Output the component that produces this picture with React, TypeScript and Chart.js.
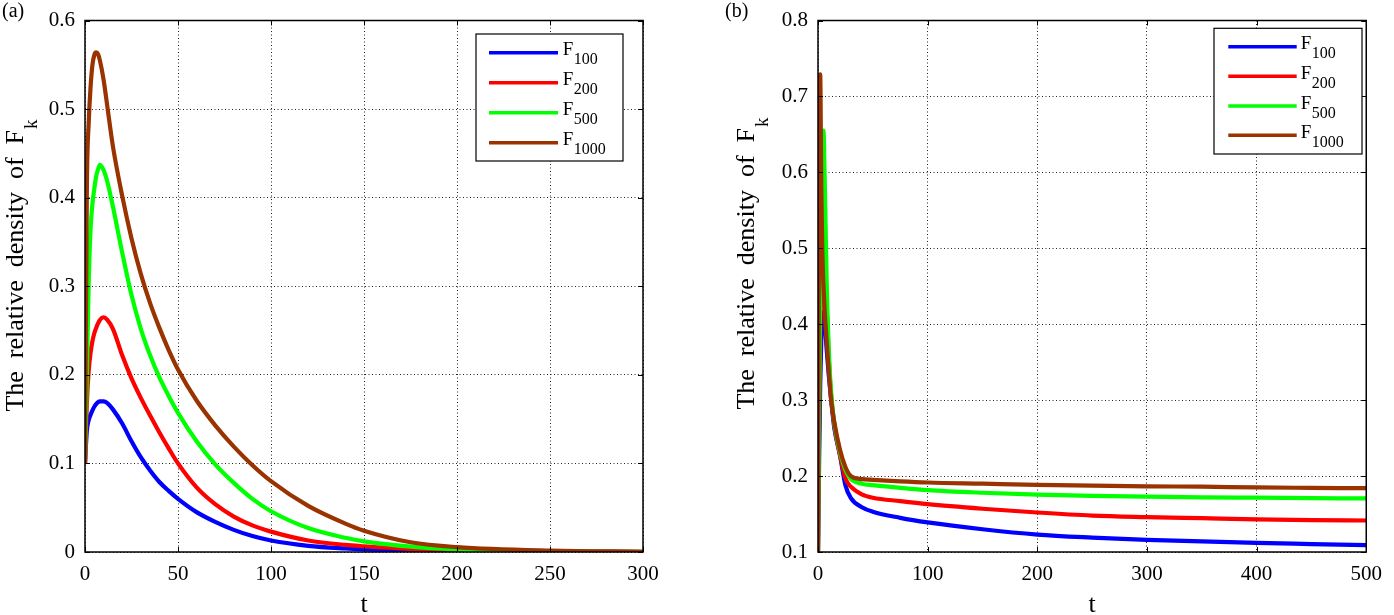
import React, { useEffect, useRef } from "react";
import { Chart, registerables } from "chart.js";

Chart.register(...registerables);

const SERIF = "'Liberation Serif', 'Times New Roman', serif";

// Series names (F with subscript) and colours
const seriesSubs = ["100", "200", "500", "1000"];
const seriesColors = ["#0000ff", "#ff0000", "#00ff00", "#993300"];

// ---------- Panel (a) ----------
const tA = [0, 1, 2, 3, 4, 5, 6, 7, 8, 10, 12, 15, 20, 25, 30, 35, 40, 45, 50, 60, 70, 80, 90, 100, 120, 140, 150, 175, 200, 250, 300];
const a100 = [0.1, 0.137, 0.149, 0.155, 0.16, 0.164, 0.167, 0.169, 0.17, 0.17, 0.168, 0.161, 0.145, 0.125, 0.107, 0.092, 0.079, 0.069, 0.06, 0.045, 0.034, 0.025, 0.018, 0.013, 0.007, 0.004, 0.003, 0.0015, 0.0007, 0.0002, 0.0];
const a200 = [0.1, 0.168, 0.205, 0.225, 0.238, 0.247, 0.253, 0.258, 0.262, 0.265, 0.262, 0.252, 0.222, 0.196, 0.174, 0.154, 0.135, 0.117, 0.1, 0.073, 0.054, 0.04, 0.03, 0.023, 0.013, 0.008, 0.0065, 0.0035, 0.0018, 0.0005, 0.0001];
const a500 = [0.1, 0.2, 0.305, 0.365, 0.393, 0.41, 0.424, 0.432, 0.437, 0.431, 0.418, 0.39, 0.338, 0.29, 0.252, 0.222, 0.197, 0.176, 0.157, 0.125, 0.099, 0.078, 0.06, 0.046, 0.027, 0.016, 0.012, 0.006, 0.003, 0.0007, 0.0001];
const a1000 = [0.1, 0.41, 0.485, 0.525, 0.55, 0.561, 0.564, 0.562, 0.555, 0.533, 0.503, 0.458, 0.402, 0.354, 0.314, 0.281, 0.253, 0.228, 0.206, 0.171, 0.143, 0.119, 0.098, 0.08, 0.052, 0.032, 0.024, 0.011, 0.0055, 0.0015, 0.0003];
const xTicksA = [0, 50, 100, 150, 200, 250, 300];
const yTicksA = [0, 0.1, 0.2, 0.3, 0.4, 0.5, 0.6];

// ---------- Panel (b) ----------
const tB = [0, 1, 2, 3, 4, 5, 6, 8, 10, 12, 15, 20, 25, 30, 40, 50, 75, 100, 150, 200, 250, 300, 350, 400, 450, 500];
const b100 = [0.1, 0.22, 0.32, 0.38, 0.41, 0.416, 0.405, 0.365, 0.33, 0.3, 0.262, 0.228, 0.188, 0.171, 0.159, 0.153, 0.145, 0.139, 0.13, 0.123, 0.119, 0.116, 0.114, 0.112, 0.1105, 0.109];
const b200 = [0.1, 0.26, 0.39, 0.47, 0.52, 0.535, 0.5, 0.42, 0.35, 0.305, 0.266, 0.228, 0.197, 0.186, 0.176, 0.1715, 0.167, 0.163, 0.157, 0.152, 0.148, 0.146, 0.1445, 0.143, 0.142, 0.1415];
const b500 = [0.1, 0.3, 0.45, 0.56, 0.63, 0.655, 0.6, 0.45, 0.36, 0.31, 0.268, 0.232, 0.208, 0.196, 0.19, 0.188, 0.1845, 0.1815, 0.178, 0.1755, 0.174, 0.173, 0.172, 0.1715, 0.171, 0.1705];
const b1000 = [0.1, 0.6, 0.729, 0.58, 0.49, 0.45, 0.42, 0.375, 0.335, 0.3, 0.27, 0.235, 0.212, 0.2, 0.196, 0.195, 0.193, 0.1915, 0.19, 0.1885, 0.1875, 0.1865, 0.186, 0.185, 0.1845, 0.184];
const xTicksB = [0, 100, 200, 300, 400, 500];
const yTicksB = [0.1, 0.2, 0.3, 0.4, 0.5, 0.6, 0.7, 0.8];

type LegendSpec = { x: number; y: number; w: number; h: number; lx0: number; lx1: number; rows: number[]; tx: number };
type PanelSpec = {
  left: number;
  width: number;
  padLeft: number;
  padRight: number;
  t: number[];
  series: number[][];
  xTicks: number[];
  yTicks: number[];
  label: string;
  labelX: number;
  titleX: number;
  titleEndY: number;
  legend: LegendSpec;
};

const panels: PanelSpec[] = [
  {
    left: 0, width: 700, padLeft: 25, padRight: 57,
    t: tA, series: [a100, a200, a500, a1000], xTicks: xTicksA, yTicks: yTicksA,
    label: "(a)", labelX: 2, titleX: 23, titleEndY: 130,
    legend: { x: 476, y: 34, w: 147, h: 127, lx0: 489, lx1: 558, rows: [52.7, 82.7, 112.7, 142.7], tx: 562.7 },
  },
  {
    left: 700, width: 694, padLeft: 58, padRight: 16.5,
    t: tB, series: [b100, b200, b500, b1000], xTicks: xTicksB, yTicks: yTicksB,
    label: "(b)", labelX: 25, titleX: 54, titleEndY: 128,
    legend: { x: 514, y: 28.3, w: 148, h: 125.7, lx0: 528.3, lx1: 596.7, rows: [46.7, 76.3, 106, 135.3], tx: 600.7 },
  },
];

function makePlugin(spec: PanelSpec) {
  return {
    id: "matlabFrame",
    afterDatasetsDraw(chart: any) {
      const { ctx, chartArea: a, scales } = chart;
      ctx.save();
      ctx.strokeStyle = "#000";
      ctx.lineWidth = 1.5;
      ctx.setLineDash([]);
      ctx.strokeRect(a.left, a.top, a.right - a.left, a.bottom - a.top);
      ctx.lineWidth = 1;
      const tl = 5;
      ctx.beginPath();
      for (const v of spec.xTicks) {
        const px = Math.round(scales.x.getPixelForValue(v)) + 0.5;
        ctx.moveTo(px, a.bottom);
        ctx.lineTo(px, a.bottom - tl);
        ctx.moveTo(px, a.top);
        ctx.lineTo(px, a.top + tl);
      }
      for (const v of spec.yTicks) {
        const py = Math.round(scales.y.getPixelForValue(v)) + 0.5;
        ctx.moveTo(a.left, py);
        ctx.lineTo(a.left + tl, py);
        ctx.moveTo(a.right, py);
        ctx.lineTo(a.right - tl, py);
      }
      ctx.stroke();
      ctx.restore();
    },
    afterDraw(chart: any) {
      const { ctx, chartArea: a } = chart;
      ctx.save();
      ctx.fillStyle = "#000";
      ctx.textBaseline = "alphabetic";

      // panel label
      ctx.font = `20px ${SERIF}`;
      ctx.textAlign = "left";
      ctx.fillText(spec.label, spec.labelX, 17);

      // x title
      ctx.font = `26px ${SERIF}`;
      ctx.textAlign = "center";
      ctx.fillText("t", (a.left + a.right) / 2, 612);

      // y title, rotated, with subscript k
      ctx.font = `26px ${SERIF}`;
      ctx.textAlign = "left";
      const words = ["The", "relative", "density", "of", "F"];
      const gap = 13;
      const widths = words.map((w) => ctx.measureText(w).width);
      const total = widths.reduce((s, w) => s + w, 0) + gap * (words.length - 1);
      ctx.translate(spec.titleX, 0);
      ctx.rotate(-Math.PI / 2);
      let u = -spec.titleEndY - total;
      words.forEach((w, i) => {
        ctx.fillText(w, u, 0);
        u += widths[i] + gap;
      });
      ctx.font = `19px ${SERIF}`;
      ctx.fillText("k", -spec.titleEndY + 1, 14);
      ctx.setTransform(1, 0, 0, 1, 0, 0);

      // legend
      const L = spec.legend;
      ctx.fillStyle = "#fff";
      ctx.fillRect(L.x, L.y, L.w, L.h);
      ctx.strokeStyle = "#000";
      ctx.lineWidth = 1.2;
      ctx.strokeRect(L.x, L.y, L.w, L.h);
      chart.data.datasets.forEach((ds: any, i: number) => {
        const ry = L.rows[i];
        ctx.strokeStyle = ds.borderColor;
        ctx.lineWidth = 3.5;
        ctx.beginPath();
        ctx.moveTo(L.lx0, ry);
        ctx.lineTo(L.lx1, ry);
        ctx.stroke();
        ctx.fillStyle = "#000";
        ctx.font = `19px ${SERIF}`;
        ctx.textAlign = "left";
        ctx.fillText("F", L.tx, ry + 2.5);
        const fw = ctx.measureText("F").width;
        ctx.font = `16px ${SERIF}`;
        ctx.fillText(seriesSubs[i], L.tx + fw + 0.5, ry + 11.5);
      });
      ctx.restore();
    },
  };
}

function Panel({ spec }: { spec: PanelSpec }) {
  const ref = useRef<HTMLCanvasElement | null>(null);
  useEffect(() => {
    if (!ref.current) return;
    const n = spec.series.length;
    const datasets = spec.series.map((vals, i) => ({
      label: "F" + seriesSubs[i],
      data: spec.t.map((x, j) => ({ x, y: vals[j] })),
      borderColor: seriesColors[i],
      backgroundColor: seriesColors[i],
      borderWidth: 4.2,
      pointRadius: 0,
      order: n - 1 - i,
      cubicInterpolationMode: "monotone" as const,
      fill: false,
    }));
    const tickFont = { family: SERIF, size: 21, lineHeight: 1 };
    const chart = new Chart(ref.current, {
      type: "line",
      data: { datasets },
      options: {
        responsive: false,
        maintainAspectRatio: false,
        animation: false,
        devicePixelRatio: 1,
        layout: { padding: { left: spec.padLeft, right: spec.padRight, top: 11, bottom: 0 } },
        plugins: { legend: { display: false }, tooltip: { enabled: false } },
        scales: {
          x: {
            type: "linear",
            min: spec.xTicks[0],
            max: spec.xTicks[spec.xTicks.length - 1],
            afterBuildTicks: (s: any) => {
              s.ticks = spec.xTicks.map((v) => ({ value: v }));
            },
            afterFit: (s: any) => {
              s.height = 63;
            },
            grid: { color: "#222", lineWidth: 1, drawTicks: false },
            border: { display: false, dash: [1, 2.5] },
            ticks: { font: tickFont, color: "#000", padding: 12, maxRotation: 0, autoSkip: false },
          },
          y: {
            type: "linear",
            min: spec.yTicks[0],
            max: spec.yTicks[spec.yTicks.length - 1],
            afterBuildTicks: (s: any) => {
              s.ticks = spec.yTicks.map((v) => ({ value: v }));
            },
            afterFit: (s: any) => {
              s.width = 60;
            },
            grid: { color: "#222", lineWidth: 1, drawTicks: false },
            border: { display: false, dash: [1, 2.5] },
            ticks: {
              font: tickFont,
              color: "#000",
              padding: 10,
              autoSkip: false,
              callback: (v: any) => String(Math.round(Number(v) * 10) / 10),
            },
          },
        },
      },
      plugins: [makePlugin(spec)],
    } as any);
    return () => chart.destroy();
  }, [spec]);
  return (
    <canvas
      ref={ref}
      width={spec.width}
      height={615}
      style={{ position: "absolute", left: spec.left, top: 0, width: spec.width, height: 615 }}
    />
  );
}

export default function App() {
  return (
    <div style={{ position: "fixed", left: 0, top: 0, width: 1394, height: 615, background: "#fff" }}>
      {panels.map((p) => (
        <Panel key={p.label} spec={p} />
      ))}
    </div>
  );
}
